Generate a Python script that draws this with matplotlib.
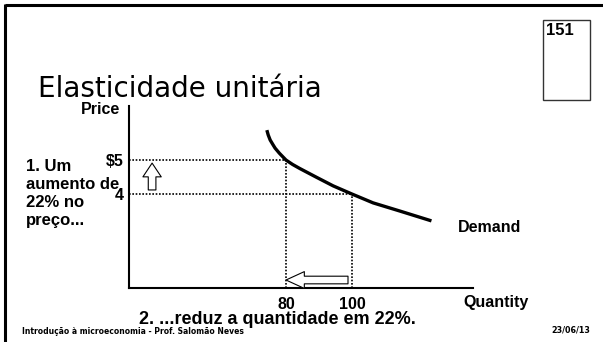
import matplotlib
matplotlib.use("Agg")
import matplotlib.pyplot as plt

# ---- data ----
demand_q = [74.2, 74.6, 75.2, 76.0, 76.7, 78.0, 80.0, 82.0, 84.2, 89.3, 94.3, 100.0,
            106.4, 114.5, 124.1]
demand_p = [5.88, 5.74, 5.59, 5.46, 5.35, 5.20, 5.00, 4.87, 4.75, 4.49, 4.24, 4.00,
            3.74, 3.50, 3.21]
price_ticks = [5, 4]
price_labels = ["$5", "4"]
qty_ticks = [80, 100]
qty_labels = ["80", "100"]
q_lo, q_hi = 32.4, 136.7
p_lo, p_hi = 1.235, 6.59

title = "Elasticidade unitária"
slide_no = "151"
left_note = "1. Um\naumento de\n22% no\npreço..."
bottom_note = "2. ...reduz a quantidade em 22%."
footer = "Introdução à microeconomia - Prof. Salomão Neves"
date = "23/06/13"

W, H = 603, 342
fig = plt.figure(figsize=(W / 100, H / 100), dpi=100)
fig.patch.set_facecolor("white")

bold = ["Liberation Sans", "DejaVu Sans"]
geo = ["DejaVu Sans"]

# overlay in pixel coordinates for slide decorations
ov = fig.add_axes([0, 0, 1, 1])
ov.set_xlim(0, W)
ov.set_ylim(H, 0)
ov.axis("off")

# slide border (top & left)
ov.plot([5, W], [5, 5], color="black", lw=2.2, solid_capstyle="butt")
ov.plot([5, 5], [4, H], color="black", lw=2.2, solid_capstyle="butt")

# slide-number box
ov.add_patch(plt.Rectangle((543, 20), 47, 80, fill=False, ec="#333333", lw=1.0))
ov.text(546, 23, slide_no, ha="left", va="top", fontsize=12, fontweight="bold",
        family=bold)

ov.text(38, 97, title, ha="left", va="baseline", fontsize=20, family=geo,
        color="black")
ov.text(100, 109, "Price", ha="center", va="center", fontsize=11.5,
        fontweight="bold", family=bold)
ov.text(26, 159, left_note, ha="left", va="top", fontsize=12,
        fontweight="bold", family=bold, linespacing=1.25)
ov.text(458, 228, "Demand", ha="left", va="center", fontsize=11.5,
        fontweight="bold", family=bold)
ov.text(463, 302, "Quantity", ha="left", va="center", fontsize=11.5,
        fontweight="bold", family=bold)
ov.text(277, 320, bottom_note, ha="center", va="center", fontsize=13,
        fontweight="bold", family=bold)
ov.text(22, 331, footer, ha="left", va="center", fontsize=5.5, fontweight="bold",
        family=geo)
ov.text(590, 330, date, ha="right", va="center", fontsize=5.8,
        fontweight="bold", family=geo)

# ---- chart axes ----
ax = fig.add_axes([129 / W, (H - 288) / H, (473 - 129) / W, (288 - 106) / H])
ax.patch.set_alpha(0)
ax.set_xlim(q_lo, q_hi)
ax.set_ylim(p_lo, p_hi)
for s in ["top", "right"]:
    ax.spines[s].set_visible(False)
for s in ["left", "bottom"]:
    ax.spines[s].set_linewidth(1.5)
ax.set_xticks(qty_ticks)
ax.set_xticklabels(qty_labels)
ax.set_yticks(price_ticks)
ax.set_yticklabels(price_labels)
ax.tick_params(length=0, labelsize=11.5)
ax.tick_params(axis="x", pad=6.5)
ax.tick_params(axis="y", pad=4)
for lab in ax.get_xticklabels() + ax.get_yticklabels():
    lab.set_fontweight("bold")
    lab.set_family(bold)

# dotted guides
for q, p in zip(qty_ticks, price_ticks):
    ax.plot([q_lo, q], [p, p], color="black", lw=1.2, ls=(0, (1, 1.0)))
    ax.plot([q, q], [p_lo, p], color="black", lw=1.2, ls=(0, (1, 1.0)))

# demand curve
ax.plot(demand_q, demand_p, color="black", lw=2.4, solid_capstyle="butt",
        solid_joinstyle="round")

# hollow arrows
ax.annotate("", xy=(39.4, 4.91), xytext=(39.4, 4.12),
            arrowprops=dict(arrowstyle="simple,head_length=0.9,head_width=1.2,tail_width=0.5",
                            fc="white", ec="black", lw=0.8, shrinkA=0, shrinkB=0,
                            mutation_scale=11))
ax.annotate("", xy=(80.0, 1.47), xytext=(98.8, 1.47),
            arrowprops=dict(arrowstyle="simple,head_length=1.2,head_width=1.1,tail_width=0.5",
                            fc="white", ec="black", lw=0.8, shrinkA=0, shrinkB=0,
                            mutation_scale=11))

fig.savefig("out.png", dpi=100, facecolor="white")
